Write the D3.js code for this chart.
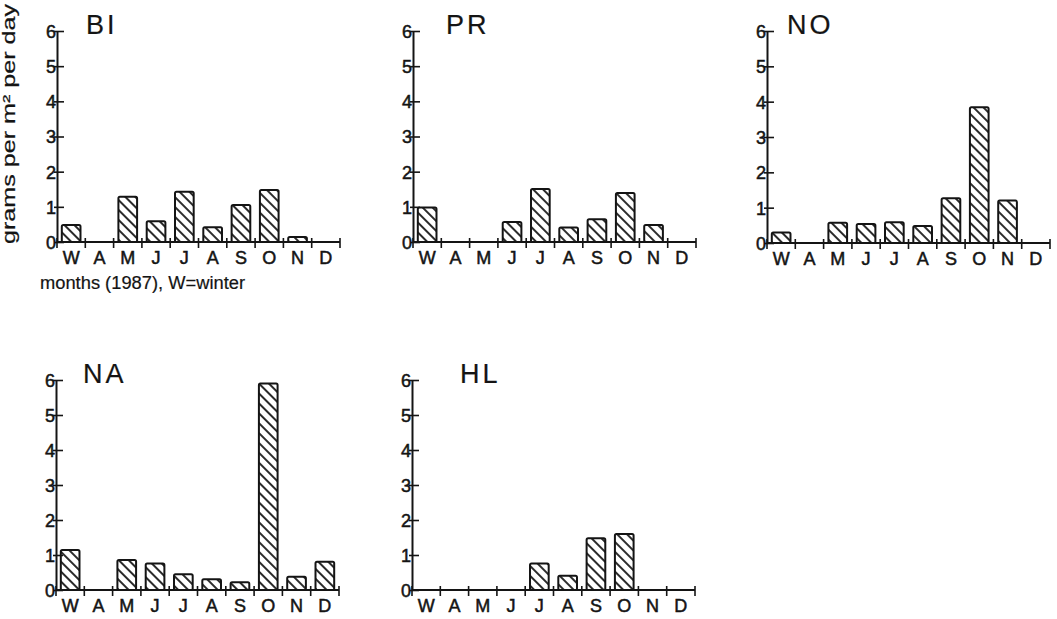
<!DOCTYPE html>
<html>
<head>
<meta charset="utf-8">
<script src="https://cdn.jsdelivr.net/npm/d3@7"></script>
<style>
  body { margin: 0; background: #fff; }
  svg { display: block; font-family: "Liberation Sans", Arial, sans-serif; }
  svg text { font-family: "Liberation Sans", Arial, sans-serif; }
</style>
</head>
<body>
<svg id="chart" width="1057" height="619"></svg>
<script>
// months along the x axis (W = winter)
var months = ['W', 'A', 'M', 'J', 'J', 'A', 'S', 'O', 'N', 'D'];
var yTicks = [0, 1, 2, 3, 4, 5, 6];

// grams per m2 per day, null = no bar
var biValues = [0.48, null, 1.29, 0.59, 1.43, 0.42, 1.05, 1.48, 0.14, null];
var prValues = [0.98, null, null, 0.57, 1.51, 0.41, 0.65, 1.39, 0.48, null];
var noValues = [0.30, null, 0.57, 0.54, 0.59, 0.48, 1.27, 3.84, 1.20, null];
var naValues = [1.14, null, 0.86, 0.76, 0.45, 0.31, 0.22, 5.90, 0.38, 0.81];
var hlValues = [null, null, null, null, 0.76, 0.41, 1.48, 1.60, null, null];

// panel placement
var panels = [
  { title: 'BI', values: biValues, left: 57,  top: 31,  height: 211, titleDx: 29 },
  { title: 'PR', values: prValues, left: 413, top: 31,  height: 211, titleDx: 33 },
  { title: 'NO', values: noValues, left: 767, top: 31,  height: 212, titleDx: 20 },
  { title: 'NA', values: naValues, left: 56,  top: 380, height: 210, titleDx: 27 },
  { title: 'HL', values: hlValues, left: 412, top: 380, height: 210, titleDx: 48 }
];
var plotWidth = 283;
var ink = '#141414';

var svg = d3.select('#chart');

// diagonal hatching
svg.append('defs').append('pattern')
  .attr('id', 'hatch')
  .attr('patternUnits', 'userSpaceOnUse')
  .attr('width', 7)
  .attr('height', 7)
  .attr('patternTransform', 'rotate(-45)')
  .append('line')
    .attr('x1', 1).attr('y1', 0)
    .attr('x2', 1).attr('y2', 7)
    .attr('stroke', ink)
    .attr('stroke-width', 1.8);

// plotter style text, a bit heavier than the font
function inkText(sel, size) {
  sel.style('font-size', size + 'px')
    .style('fill', ink)
    .style('stroke', ink)
    .style('stroke-width', 0.5);
}

panels.forEach(function(p) {
  var g = svg.append('g').attr('transform', 'translate(' + p.left + ',' + p.top + ')');

  var x = d3.scaleBand()
    .domain(d3.range(months.length))
    .range([0, plotWidth])
    .paddingInner(0.34)
    .paddingOuter(0.17);

  var y = d3.scaleLinear()
    .domain([0, 6])
    .range([p.height, 0]);

  // bars
  g.selectAll('rect.bar')
    .data(p.values.map(function(v, i) { return { i: i, v: v }; }).filter(function(d) { return d.v != null; }))
    .enter().append('rect')
      .attr('class', 'bar')
      .attr('x', function(d) { return x(d.i); })
      .attr('y', function(d) { return y(d.v); })
      .attr('width', x.bandwidth())
      .attr('height', function(d) { return y(0) - y(d.v); })
      .attr('rx', 1.5)
      .attr('fill', 'url(#hatch)')
      .attr('stroke', ink)
      .attr('stroke-width', 2);

  // y axis
  var yAxis = g.append('g')
    .call(d3.axisLeft(y).tickValues(yTicks).tickSizeOuter(0).tickFormat(d3.format('d')));
  yAxis.attr('font-family', null).attr('font-size', null);
  yAxis.select('.domain').attr('stroke', ink).attr('stroke-width', 2);
  yAxis.selectAll('.tick line').attr('x1', 7).attr('x2', -3).attr('stroke', ink).attr('stroke-width', 1.6);
  yAxis.selectAll('.tick text')
    .attr('x', -1)
    .attr('dy', '0.36em')
    .call(inkText, 18);

  // x axis, ticks on the band edges
  var step = x.step();
  var edges = d3.range(months.length + 1).map(function(i) { return i * step; });
  g.append('line')
    .attr('x1', 0).attr('x2', plotWidth)
    .attr('y1', y(0)).attr('y2', y(0))
    .attr('stroke', ink).attr('stroke-width', 2);
  g.selectAll('line.xtick')
    .data(edges)
    .enter().append('line')
      .attr('class', 'xtick')
      .attr('x1', function(d) { return d; }).attr('x2', function(d) { return d; })
      .attr('y1', y(0) - 4).attr('y2', y(0) + 6)
      .attr('stroke', ink).attr('stroke-width', 1.6);
  g.selectAll('text.xlab')
    .data(months)
    .enter().append('text')
      .attr('class', 'xlab')
      .attr('x', function(d, i) { return x(i) + x.bandwidth() / 2; })
      .attr('y', y(0) + 22)
      .attr('text-anchor', 'middle')
      .call(inkText, 18)
      .text(function(d) { return d; });

  // panel title
  g.append('text')
    .attr('x', p.titleDx)
    .attr('y', 3)
    .style('letter-spacing', '3px')
    .call(inkText, 27)
    .style('stroke-width', 0.2)
    .text(p.title);
});

// axis titles (first panel only)
svg.append('text')
  .attr('transform', 'translate(15,124) rotate(-90)')
  .attr('text-anchor', 'middle')
  .attr('textLength', 240)
  .attr('lengthAdjust', 'spacingAndGlyphs')
  .call(inkText, 18)
  .style('stroke-width', 0.2)
  .text('grams per m\u00b2 per day');

svg.append('text')
  .attr('x', 40)
  .attr('y', 289)
  .attr('textLength', 205)
  .attr('lengthAdjust', 'spacingAndGlyphs')
  .call(inkText, 18)
  .style('stroke-width', 0.2)
  .text('months (1987), W=winter');
</script>
</body>
</html>
